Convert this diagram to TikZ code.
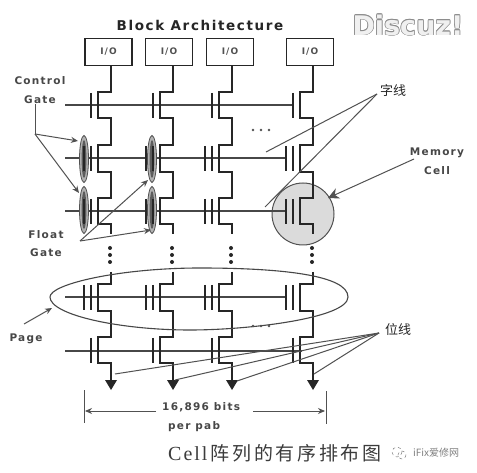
\documentclass[tikz,border=0pt]{standalone}
\usepackage{fontspec}
\usetikzlibrary{arrows.meta,shapes.geometric}
\setmainfont{DejaVu Sans}
\newfontfamily\lblfont[LetterSpace=12]{DejaVu Sans Bold}
\newfontfamily\capfont[LetterSpace=10]{Liberation Serif}
\newfontfamily\cjk{Noto Sans CJK SC}
\newfontfamily\cjkcap[LetterSpace=14]{Noto Sans CJK SC}
\newfontfamily\wmfont{DejaVu Sans Bold}
\definecolor{ink}{HTML}{262626}
\newcommand{\wmcopy}[2]{\rlap{\kern#1pt\raisebox{#2pt}{\textcolor{black!45}{Discuz!}}}}
\tikzset{
  lbl/.style={font=\lblfont\fontsize{10.5}{12}\selectfont,text=ink!85,inner sep=0pt},
  iobox/.style={draw=ink,line width=1.6pt,minimum width=47pt,minimum height=27pt,inner sep=0pt,font=\lblfont\fontsize{9}{10}\selectfont,text=ink!80},
  bit/.style={draw=ink,line width=1.9pt},
  word/.style={draw=ink!85,line width=1.5pt},
  gatebar/.style={draw=ink,line width=1.7pt},
  lead/.style={draw=ink!80,line width=1pt},
  leadarrow/.style={lead,-{Stealth[length=7pt,width=6pt]}},
  dotmark/.style={fill=ink,circle,inner sep=0pt,minimum size=4pt},
  tinydot/.style={fill=ink!80,circle,inner sep=0pt,minimum size=2.6pt},
  floatoval/.style={draw=ink!80,line width=.8pt,fill=black!30}
}
\begin{document}
\begin{tikzpicture}[x=1pt,y=-1pt]
\useasboundingbox[fill=white] (0,0) rectangle (477,473);
% memory cell highlight
\fill[black!14] (303,214) circle (31);
\draw[ink!80,line width=1pt] (303,214) circle (31);
% word lines
\coordinate (wl1) at (65,105); \coordinate (wr1) at (293,105);
\coordinate (wl2) at (65,158); \coordinate (wr2) at (286,158);
\coordinate (wl3) at (65,211); \coordinate (wr3) at (286,211);
\coordinate (wl4) at (65,297); \coordinate (wr4) at (286,297);
\coordinate (wl5) at (65,351); \coordinate (wr5) at (302,351);
\foreach \r in {1,...,5} \draw[word] (wl\r) -- (wr\r);
% I/O boxes
\node[iobox] (ioa) at (108.5,52) {I/O};
\node[iobox] (iob) at (169,52) {I/O};
\node[iobox] (ioc) at (230,52) {I/O};
\node[iobox] (iod) at (310,52) {I/O};
% float-gate ovals
\foreach \n/\x/\y in {fa/84/159,fb/84/210,fc/152/159,fd/152/210}{
  \node[floatoval,ellipse,minimum width=9pt,minimum height=47pt,inner sep=0pt] (\n) at (\x,\y) {};
  \fill[ink!75] (\x,\y) ellipse [x radius=2.4,y radius=19];
}
% bit lines and cells
\foreach \bl/\n in {111/a,173/b,232/c,313/d}{
  \pgfmathsetmacro{\ch}{\bl-13}
  \coordinate (t\n) at (\bl,92);
  \draw[bit] (io\n.south -| t\n) -- (t\n) -- (\ch,92) -- (\ch,118) -- (\bl,118)
     -- (\bl,145) -- (\ch,145) -- (\ch,172) -- (\bl,172)
     -- (\bl,198) -- (\ch,198) -- (\ch,224) -- (\bl,224) -- (\bl,234);
  \node[dotmark] (d1\n) at (\bl-1,248) {};
  \node[dotmark] (d2\n) at (\bl-1,255) {};
  \node[dotmark] (d3\n) at (\bl-1,262) {};
  \draw[bit] (\bl,272) -- (\bl,284) -- (\ch,284) -- (\ch,311) -- (\bl,311)
     -- (\bl,337) -- (\ch,337) -- (\ch,363) -- (\bl,363) -- (\bl,382);
  \fill[ink] (\bl-6,380) -- (\bl+6,380) -- (\bl,390) -- cycle;
  % single-bar gates
  \foreach \t in {92,337}{ \draw[gatebar] (\ch-7,\t+1) -- (\ch-7,\t+26); }
  % double-bar gates
  \foreach \t in {145,198,284}{
    \draw[gatebar] (\ch-7,\t+1) -- (\ch-7,\t+26);
    \draw[gatebar] (\ch-14,\t+1) -- (\ch-14,\t+26);
  }
}
% page outline
\draw[ink!85,line width=1.1pt] (50,297) .. controls (50,284) and (120,268) .. (200,268)
  .. controls (280,268) and (348,275) .. (348,297)
  .. controls (348,318) and (250,330) .. (190,330)
  .. controls (120,330) and (50,315) .. (50,297);
% ellipses
\foreach \n/\x/\y in {e1/253/130,e2/261/130,e3/269/130,e4/253/326,e5/261/326,e6/269/326}
  \node[tinydot] (\n) at (\x,\y) {};
% labels
\node[font=\lblfont\fontsize{13.5}{15}\selectfont,text=ink,inner sep=0pt] (title) at (200,25) {Block Architecture};
\node[lbl] (cg1) at (40,81) {Control};
\node[lbl] (cg2) at (40,100) {Gate};
\node[lbl] (fg1) at (46,235) {Float};
\node[lbl] (fg2) at (46,253) {Gate};
\node[lbl] (pg) at (26,339) {Page};
\node[lbl] (mc1) at (437,153) {Memory};
\node[lbl] (mc2) at (437,171) {Cell};
\node[font=\cjk\fontsize{13}{15}\selectfont,text=ink,inner sep=0pt] (zx) at (393,91) {字线};
\node[font=\cjk\fontsize{13}{15}\selectfont,text=ink,inner sep=0pt] (wx) at (398,330) {位线};
\node[lbl,anchor=west] (bits) at (162,407) {16,896 bits};
\node[lbl,anchor=west] (perpab) at (168,427) {per pab};
\node[inner sep=0pt,anchor=west,text=ink!90] (cap) at (168,453) {\capfont\fontsize{20}{22}\selectfont Cell\,\cjkcap\fontsize{19}{22}\selectfont 阵列的有序排布图};
% watermarks
\node[font=\wmfont\fontsize{27}{29}\selectfont,inner sep=0pt] (dz) at (408,25) {\wmcopy{-.7}{0}\wmcopy{.7}{0}\wmcopy{0}{-.7}\wmcopy{0}{.7}\wmcopy{-.5}{-.5}\wmcopy{.5}{.5}\wmcopy{-.5}{.5}\wmcopy{.5}{-.5}\textcolor{black!6}{Discuz!}};
\node[font=\cjk\fontsize{10}{11}\selectfont,text=black!50,inner sep=0pt,anchor=west] (ifx) at (413,453) {iFix爱修网};
\draw[black!50,line width=.5pt,dashed] (397,452) circle (5);
\draw[black!50,line width=.5pt,dashed] (402,455) circle (4);
% leaders: control gate
\coordinate (cgm) at (35,134);
\coordinate (cga) at (78,141);
\coordinate (cgb) at (79,193);
\draw[lead] (cg2.south -| cgm) -- (cgm);
\draw[leadarrow] (cgm) -- (cga);
\draw[leadarrow] (cgm) -- (cgb);
% leaders: float gate
\coordinate (fgm) at (80,241);
\coordinate (fga) at (148,180);
\coordinate (fgb) at (151,230);
\draw[leadarrow] (fgm) -- (fga);
\draw[leadarrow] (fgm) -- (fgb);
% leaders: word line label
\coordinate (zxs) at (377,94);
\coordinate (zxa) at (266,152);
\coordinate (zxb) at (265,207);
\draw[lead] (zxs) -- (zxa);
\draw[lead] (zxs) -- (zxb);
% leader: memory cell
\coordinate (mcs) at (414,159);
\coordinate (mct) at (328,198);
\draw[lead,-{Stealth[length=11pt,width=11pt]}] (mcs) -- (mct);
% leader: page
\coordinate (pgs) at (24,324);
\coordinate (pgt) at (52,308);
\draw[leadarrow] (pgs) -- (pgt);
% leaders: bit line label
\coordinate (wxs) at (379,333);
\foreach \n/\x/\y in {1/115/374,2/175/380,3/237/381,4/314/374}{
  \coordinate (wxt\n) at (\x,\y);
  \draw[lead] (wxs) -- (wxt\n);
}
% dimension
\coordinate (dl1) at (84.5,390); \coordinate (dl2) at (84.5,423);
\coordinate (dr1) at (326,391); \coordinate (dr2) at (326,424);
\draw[ink!80,line width=.9pt] (dl1) -- (dl2);
\draw[ink!80,line width=.9pt] (dr1) -- (dr2);
\coordinate (dal) at (85,411); \coordinate (das) at (156,411);
\coordinate (dar) at (325,411); \coordinate (dbs) at (253,411);
\draw[leadarrow] (das) -- (dal);
\draw[leadarrow] (dbs) -- (dar);
\end{tikzpicture}
\end{document}
